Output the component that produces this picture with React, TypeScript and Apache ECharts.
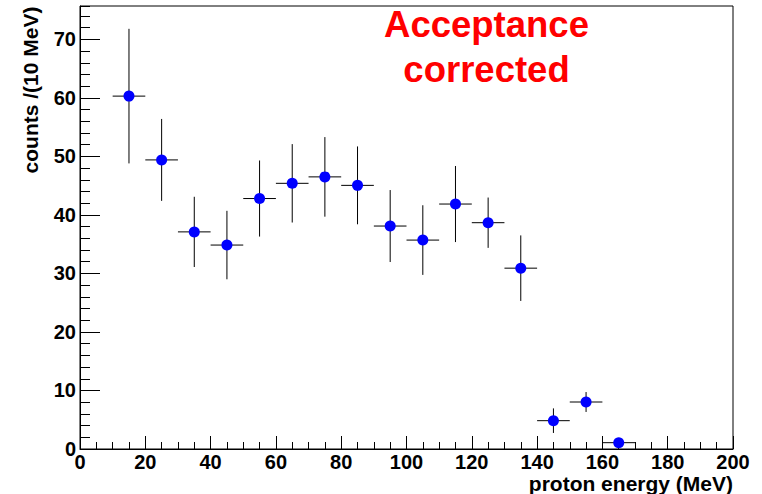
import React, { useEffect, useRef } from "react";
import * as echarts from "echarts";

const energies = [15, 25, 35, 45, 55, 65, 75, 85, 95, 105, 115, 125, 135, 145, 155, 165];
const counts = [60.3, 49.4, 37.1, 34.85, 42.8, 45.4, 46.5, 45.05, 38.1, 35.7, 41.86, 38.67, 30.9, 4.84, 8.03, 1.08];
const errors = [11.5, 7.0, 6.0, 5.85, 6.5, 6.7, 6.8, 6.65, 6.15, 5.95, 6.5, 4.3, 5.6, 2.1, 1.7, 0.5];
const binHalfWidth = 5;
const titleLines = ["Acceptance", "corrected"];
const xTitle = "proton energy (MeV)";
const yTitle = "counts /(10 MeV)";

const FONT = "'Liberation Sans', Arial, Helvetica, sans-serif";

export default function App() {
  const ref = useRef<HTMLDivElement>(null);
  useEffect(() => {
    if (!ref.current) return;
    const chart = echarts.init(ref.current, undefined, { renderer: "svg" });
    const errData = energies.map((e, i) => [e, counts[i], counts[i] - errors[i], counts[i] + errors[i]]);
    const ptData = energies.map((e, i) => [e, counts[i]]);
    const grid = { left: 80, top: 6, right: 29, bottom: 45, show: true, borderColor: "#000", borderWidth: 1, backgroundColor: "transparent" };
    const labelStyle = { color: "#000", fontFamily: FONT, fontWeight: "bold" as const, fontSize: 20 };
    chart.setOption({
      animation: false,
      backgroundColor: "#fff",
      grid,
      xAxis: [
        {
          type: "value", min: 0, max: 200, interval: 20,
          axisLine: { show: true, lineStyle: { color: "#000", width: 1 } },
          axisTick: { show: true, inside: true, length: 13, lineStyle: { color: "#000" } },
          axisLabel: { ...labelStyle, margin: 3, showMaxLabel: true, showMinLabel: true },
          splitLine: { show: false },
        },
        {
          type: "value", min: 0, max: 200, interval: 5, position: "bottom",
          axisLine: { show: false },
          axisTick: { show: true, inside: true, length: 7, lineStyle: { color: "#000" } },
          axisLabel: { show: false },
          splitLine: { show: false },
        },
      ],
      yAxis: [
        {
          type: "value", min: 0, max: 75.7, interval: 10,
          axisLine: { show: true, lineStyle: { color: "#000", width: 1 } },
          axisTick: { show: true, inside: true, length: 20, lineStyle: { color: "#000" } },
          axisLabel: {
            ...labelStyle, margin: 4, showMaxLabel: false, padding: [4, 0, 0, 0],
            formatter: (v: number) => (Math.abs(v % 10) < 1e-6 ? String(v) : ""),
          },
          splitLine: { show: false },
        },
        {
          type: "value", min: 0, max: 75.7, interval: 2, position: "left",
          axisLine: { show: false },
          axisTick: { show: true, inside: true, length: 10, lineStyle: { color: "#000" } },
          axisLabel: { show: false },
          splitLine: { show: false },
        },
      ],
      series: [
        {
          type: "custom",
          xAxisIndex: 0, yAxisIndex: 0,
          data: errData,
          z: 2,
          renderItem: (params: any, api: any) => {
            const x = api.value(0), y = api.value(1), lo = api.value(2), hi = api.value(3);
            const pL = api.coord([x - binHalfWidth, y]);
            const pR = api.coord([x + binHalfWidth, y]);
            const pT = api.coord([x, hi]);
            const pB = api.coord([x, Math.max(lo, 0)]);
            const st = { stroke: "#000", lineWidth: 1 };
            return {
              type: "group",
              children: [
                { type: "line", shape: { x1: pL[0], y1: pL[1], x2: pR[0], y2: pR[1] }, style: st },
                { type: "line", shape: { x1: pT[0], y1: pT[1], x2: pB[0], y2: pB[1] }, style: st },
              ],
            };
          },
        },
        {
          type: "scatter",
          xAxisIndex: 0, yAxisIndex: 0,
          data: ptData,
          symbol: "circle",
          symbolSize: 11,
          itemStyle: { color: "#0000ff", opacity: 1 },
          z: 3,
        },
      ],
      graphic: [
        {
          type: "text", x: 486.5, y: 24.5,
          style: { text: titleLines[0], fill: "#ff0000", font: `bold 36.5px ${FONT}`, align: "center", verticalAlign: "middle" },
        },
        {
          type: "text", x: 486.5, y: 69.5,
          style: { text: titleLines[1], fill: "#ff0000", font: `bold 36.5px ${FONT}`, align: "center", verticalAlign: "middle" },
        },
        {
          type: "text", x: 733, y: 483,
          style: { text: xTitle, fill: "#000", font: `bold 21px ${FONT}`, align: "right", verticalAlign: "middle" },
        },
        {
          type: "text", x: 30.5, y: 90, rotation: Math.PI / 2,
          style: { text: yTitle, fill: "#000", font: `bold 21px ${FONT}`, align: "center", verticalAlign: "middle" },
        },
      ],
    });
    return () => chart.dispose();
  }, []);
  return <div ref={ref} style={{ position: "fixed", left: 0, top: 0, width: 762, height: 494 }} />;
}
